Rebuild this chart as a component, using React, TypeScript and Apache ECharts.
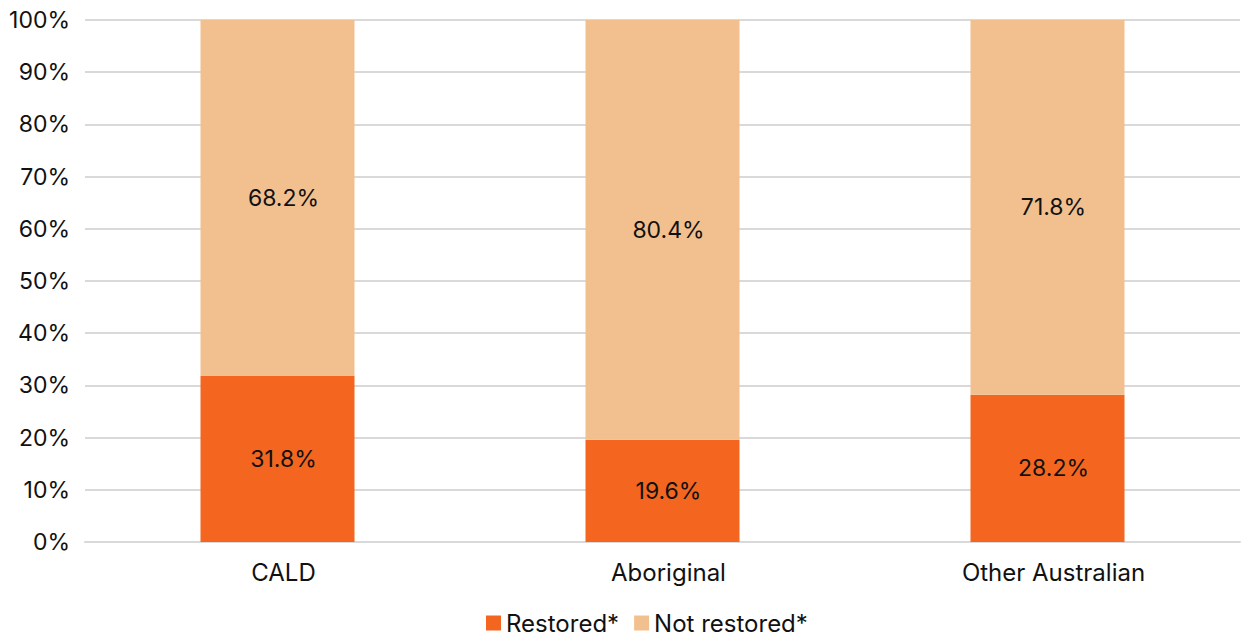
import React, { useEffect, useRef } from "react";
import * as echarts from "echarts";

const categories = ["CALD", "Aboriginal", "Other Australian"];
const restored = [31.8, 19.6, 28.2];
const notRestored = [68.2, 80.4, 71.8];
const seriesNames = ["Restored*", "Not restored*"];

const FONT = "Inter, Roboto, 'Noto Sans', sans-serif";
const FS = 23;

export default function App() {
  const ref = useRef<HTMLDivElement>(null);

  useEffect(() => {
    if (!ref.current) return;
    const chart = echarts.init(ref.current, null, { renderer: "svg" });
    const valueLabel = {
      show: true,
      position: "inside" as const,
      offset: [6, 0],
      color: "#111",
      fontSize: FS,
      fontFamily: FONT,
      formatter: (p: any) => `${p.value.toFixed(1)}%`,
    };
    chart.setOption({
      animation: false,
      textStyle: { fontFamily: FONT },
      grid: { left: 85, right: 3, top: 20, bottom: 97, containLabel: false },
      legend: {
        top: 611,
        left: 486,
        padding: 0,
        icon: "rect",
        itemWidth: 15,
        itemHeight: 15,
        itemGap: 15,
        textStyle: {
          fontSize: 24,
          lineHeight: 24,
          color: "#111",
          fontFamily: FONT,
          padding: [0, 0, 0, 0],
        },
        data: seriesNames,
      },
      xAxis: {
        type: "category",
        data: categories,
        axisTick: { show: false },
        axisLine: { lineStyle: { color: "#d9d9d9", width: 2 } },
        axisLabel: {
          fontSize: 24,
          color: "#111",
          margin: 18,
          fontFamily: FONT,
          padding: [0, 0, 0, 12],
        },
      },
      yAxis: {
        type: "value",
        min: 0,
        max: 100,
        interval: 10,
        axisLabel: {
          fontSize: FS,
          color: "#111",
          margin: 15,
          fontFamily: FONT,
          formatter: (v: number) => `${v}%`,
        },
        splitLine: { lineStyle: { color: "#d9d9d9", width: 2 } },
      },
      series: [
        {
          name: seriesNames[0],
          type: "bar",
          stack: "total",
          data: restored,
          barWidth: "40%",
          itemStyle: { color: "#F4661F" },
          label: valueLabel,
        },
        {
          name: seriesNames[1],
          type: "bar",
          stack: "total",
          data: notRestored,
          barWidth: "40%",
          itemStyle: { color: "#F2C08E" },
          label: valueLabel,
        },
      ],
    });
    return () => chart.dispose();
  }, []);

  return (
    <div
      ref={ref}
      style={{ position: "absolute", left: 0, top: 0, width: 1243, height: 639, background: "#fff" }}
    />
  );
}
